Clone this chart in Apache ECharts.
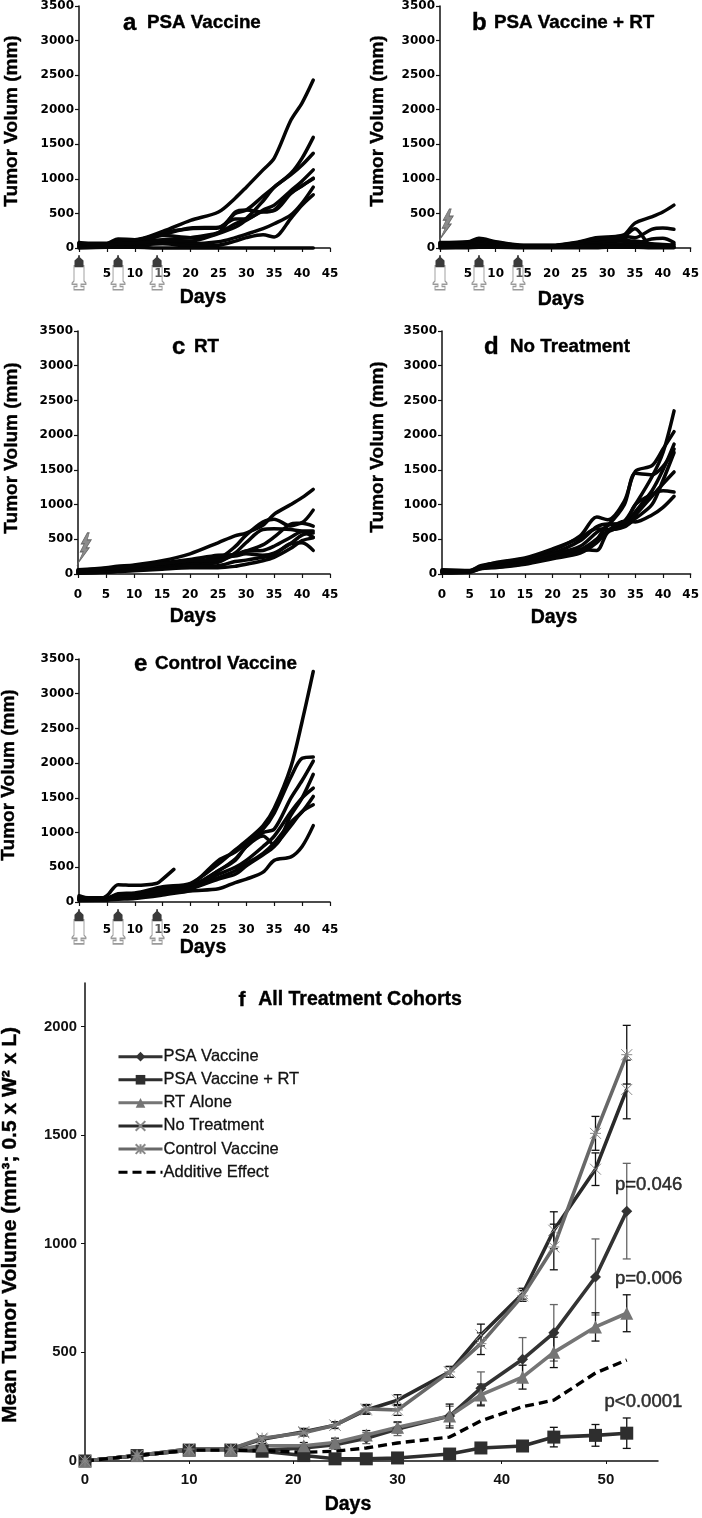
<!DOCTYPE html>
<html>
<head>
<meta charset="utf-8">
<style>
  html, body { margin: 0; padding: 0; background: #fff; }
  #chart { width: 702px; height: 1518px; }
</style>
</head>
<body>
<div id="chart"></div>
<script src="https://cdn.jsdelivr.net/npm/echarts@6/dist/echarts.min.js"></script>
<script>
// days measured in the individual mouse panels
const panelDays = [0, 5, 7, 10, 15, 20, 25, 28, 30, 33, 35, 38, 40, 42]

const linesA = [
  [70, 70, 130, 120, 240, 400, 520, 720, 880, 1130, 1300, 1850, 2100, 2430],
  [60, 60, 110, 110, 220, 280, 290, 500, 550, 750, 880, 1080, 1300, 1600],
  [50, 50, 90, 100, 120, 150, 220, 350, 430, 680, 880, 1060, 1200, 1370],
  [40, 40, 70, 80, 190, 290, 300, 420, 420, 550, 620, 830, 970, 1130],
  [30, 50, 90, 110, 180, 150, 220, 520, 550, 520, 550, 800, 900, 1010],
  [20, 30, 50, 60, 80, 60, 90, 150, 200, 280, 350, 480, 650, 880],
  [10, 20, 30, 40, 60, 30, 40, 100, 150, 190, 160, 430, 620, 770],
  [0, 10, 10, 10, 0, 0, 0, 0, 0, 0, 0, 0, 0, 0],
  [80, 40, 60, 70, 100, 100, 210, 300, 400, 530, 540, 790, 900, 1000]
]
const linesB = [
  [80, 90, 140, 90, 40, 40, 90, 150, 160, 190, 360, 450, 520, 620],
  [70, 80, 130, 80, 35, 35, 80, 130, 150, 170, 150, 270, 290, 270],
  [60, 70, 110, 70, 30, 30, 70, 110, 130, 130, 70, 130, 140, 80],
  [50, 60, 90, 60, 25, 30, 60, 100, 130, 170, 280, 20, 10, 60],
  [40, 50, 70, 50, 20, 25, 50, 70, 90, 100, 100, 60, 50, 40],
  [30, 30, 50, 40, 15, 20, 30, 40, 50, 60, 60, 40, 30, 20],
  [15, 20, 30, 20, 10, 10, 20, 20, 30, 30, 40, 30, 20, 10],
  [0, 5, 10, 10, 5, 5, 5, 5, 10, 10, 10, 5, 5, 5]
]
const linesC = [
  [60, 90, 110, 130, 190, 290, 450, 550, 590, 700, 860, 1000, 1100, 1220],
  [50, 80, 95, 120, 160, 210, 270, 280, 330, 420, 530, 720, 740, 920],
  [40, 70, 85, 110, 130, 150, 220, 390, 560, 750, 790, 690, 730, 690],
  [30, 60, 75, 95, 110, 140, 170, 300, 450, 640, 650, 640, 620, 620],
  [20, 45, 60, 80, 100, 130, 250, 260, 290, 270, 300, 440, 560, 590],
  [15, 30, 40, 60, 80, 110, 120, 180, 200, 240, 280, 440, 450, 340],
  [10, 25, 35, 45, 70, 90, 90, 110, 140, 190, 240, 370, 480, 520],
  [45, 75, 90, 110, 150, 190, 200, 270, 330, 340, 400, 530, 610, 530]
]
const linesD = [
  [50, 40, 100, 120, 170, 260, 350, 500, 620, 760, 1000, 1400, 1750, 2350],
  [60, 50, 120, 160, 220, 340, 550, 820, 780, 1050, 1480, 1560, 1800, 2050],
  [40, 45, 110, 140, 200, 300, 480, 680, 720, 720, 900, 1200, 1500, 1870],
  [30, 40, 90, 120, 180, 280, 400, 600, 700, 1000, 1450, 1430, 1550, 1800],
  [20, 35, 85, 110, 160, 250, 350, 340, 600, 700, 850, 1120, 1300, 1470],
  [25, 30, 80, 100, 150, 240, 320, 500, 700, 730, 1000, 1150, 1200, 1180],
  [15, 25, 75, 95, 140, 220, 300, 450, 620, 760, 750, 850, 960, 1120],
  [45, 45, 105, 170, 230, 360, 520, 650, 640, 680, 800, 1000, 1350, 1750]
]
const linesE = [
  [60, 60, 120, 130, 220, 270, 550, 750, 880, 1100, 1350, 1950, 2600, 3320],
  [70, 50, 110, 120, 200, 250, 600, 720, 850, 1050, 1280, 1800, 2070, 2090],
  [50, 45, 100, 110, 190, 230, 450, 620, 800, 1000, 1050, 1500, 1750, 2030],
  [40, 40, 90, 100, 180, 220, 450, 600, 800, 950, 820, 1250, 1500, 1840],
  [30, 40, 80, 90, 170, 210, 400, 500, 600, 800, 950, 1300, 1500, 1640],
  [20, 35, 70, 80, 150, 200, 350, 450, 550, 700, 850, 1150, 1300, 1520],
  [35, 30, 60, 70, 120, 190, 330, 400, 520, 680, 800, 1100, 1300, 1400],
  [60, 30, 40, 50, 100, 160, 190, 280, 330, 430, 600, 650, 800, 1100]
]
// the one mouse in panel e that stops at day 17
const shortDaysE = [0, 3, 5, 7, 10, 14, 15, 17]
const shortLineE = [90, 30, 90, 250, 240, 270, 330, 470]

const vaccineDays = [0, 7, 14]
const rtDay = [1.2]

// panel f
const cohortDays = [0, 5, 10, 14, 17, 21, 24, 27, 30, 35, 38, 42, 45, 49, 52]
const psaVaccine = [0, 25, 50, 50, 50, 60, 75, 105, 147, 207, 335, 468, 590, 847, 1150]
const psaVaccineErr = [0, 5, 8, 8, 10, 15, 20, 25, 30, 45, 75, 100, 130, 175, 220]
const psaVaccineRt = [0, 25, 50, 50, 45, 25, 10, 10, 14, 32, 60, 69, 110, 118, 128]
const psaVaccineRtErr = [0, 5, 8, 8, 8, 8, 6, 5, 5, 10, 10, 12, 45, 50, 70]
const rtAlone = [0, 25, 50, 50, 70, 70, 85, 120, 155, 207, 304, 386, 500, 617, 680]
const rtAloneErr = [0, 5, 8, 8, 10, 15, 20, 20, 25, 55, 50, 55, 70, 65, 85]
const noTreatment = [0, 25, 55, 55, 100, 135, 165, 235, 280, 410, 580, 770, 1062, 1343, 1710]
const noTreatmentErr = [0, 5, 8, 8, 10, 15, 15, 20, 25, 25, 50, 25, 85, 75, 135]
const controlVaccine = [0, 25, 55, 55, 105, 130, 165, 240, 235, 410, 540, 760, 985, 1508, 1870]
const controlVaccineErr = [0, 5, 8, 8, 10, 15, 15, 20, 25, 25, 50, 25, 105, 78, 135]
const additiveEffect = [0, 25, 50, 50, 48, 40, 45, 60, 83, 110, 185, 250, 280, 405, 465]
const cohortXTicks = [0, 10, 20, 30, 40, 50]
const cohortYTicks = [0, 500, 1000, 1500, 2000]
const pValues = ['p=0.046', 'p=0.006', 'p<0.0001']
const pAnchors = [[54.1, 1270], [54.1, 837], [53.6, 271]]

const PANEL_YLABEL = 'Tumor Volum (mm)'
const SANS = '"Liberation Sans", Arial, sans-serif'
const TICK_FONT = '"DejaVu Sans", Verdana, sans-serif'

// syringe and lightning glyphs
const SYRINGE_BODY = 'path://M2 0H12V14L14 16V17H9V19H12V22H2V19H5V17H0V16L2 14Z'
const SYRINGE_TIP = 'path://M1 11V5L5 2V0H7V2L11 5V11Z'
const BOLT = 'path://M9 0L3 11L6 11L2 19L5 19L0 30L11 15L8 15L13 7L9 7L11 0Z'
const X_MARK = 'path://M0 0L10 10M10 0L0 10'
const STAR_MARK = 'path://M0 0L10 10M10 0L0 10M5 0V10M0 5H10'

const panels = [
  { letter: 'a', title: 'PSA Vaccine', lines: linesA, rect: [79, 5, 251, 243], lx: 123, tx: 147, ty: 23, ylx: 12, yly: 121, dx: 203, dy: 298, labelGap: 24, syringes: true },
  { letter: 'b', title: 'PSA Vaccine + RT', lines: linesB, rect: [440, 5, 253, 243], lx: 472, tx: 494, ty: 23, ylx: 378, yly: 121, dx: 561, dy: 300, labelGap: 24, syringes: true, bolt: 345 },
  { letter: 'c', title: 'RT', lines: linesC, rect: [78, 331, 252, 243], lx: 172, tx: 194, ty: 347, ylx: 12, yly: 448, dx: 193, dy: 617, labelGap: 19, bolt: 375 },
  { letter: 'd', title: 'No Treatment', lines: linesD, rect: [442, 331, 252, 243], lx: 484, tx: 510, ty: 347, ylx: 378, yly: 447, dx: 554, dy: 618, labelGap: 19 },
  { letter: 'e', title: 'Control Vaccine', lines: linesE, rect: [79, 659, 251, 243], lx: 134, tx: 155, ty: 664, ylx: 9, yly: 775, dx: 203, dy: 948, labelGap: 26, syringes: true }
]

const zip = (xs, ys) => xs.map((x, i) => [x, ys[i]])

const grid = []
const xAxis = []
const yAxis = []
const series = []
const texts = []

const addText = (text, x, y, size, rotation, align) => {
  texts.push({
    type: 'text',
    x,
    y,
    rotation: rotation || 0,
    style: {
      text,
      fontFamily: SANS,
      fontSize: size,
      fontWeight: 'bold',
      fill: '#000',
      stroke: '#000',
      lineWidth: 0.4,
      align: align || 'left',
      verticalAlign: 'middle'
    }
  })
}

panels.forEach((p, i) => {
  grid.push({ left: p.rect[0], top: p.rect[1], width: p.rect[2], height: p.rect[3] })
  xAxis.push({
    type: 'value',
    gridIndex: i,
    min: 0,
    max: 45,
    interval: 5,
    splitLine: { show: false },
    axisLine: { onZero: false, lineStyle: { color: '#111', width: 1.5 } },
    axisTick: { length: 4, lineStyle: { color: '#111', width: 1.2 } },
    axisLabel: {
      margin: p.labelGap - 4,
      color: '#000',
      fontFamily: TICK_FONT,
      fontWeight: 'bold',
      fontSize: 12,
      formatter: (v) => (p.syringes && v === 0 ? '' : String(v)),
      verticalAlign: 'top'
    }
  })
  yAxis.push({
    type: 'value',
    gridIndex: i,
    min: 0,
    max: 3500,
    interval: 500,
    splitLine: { show: false },
    axisLine: { show: true, lineStyle: { color: '#111', width: 1.5 } },
    axisTick: { show: true, length: 4, lineStyle: { color: '#111', width: 1.2 } },
    axisLabel: {
      margin: 5,
      color: '#000',
      fontFamily: TICK_FONT,
      fontWeight: 'bold',
      fontSize: 12,
      formatter: (v) => String(v)
    }
  })

  const traces = p.lines.map((vals) => zip(panelDays, vals))
  if (p.letter === 'e') traces.push(zip(shortDaysE, shortLineE))
  traces.forEach((data) => {
    series.push({
      type: 'line',
      xAxisIndex: i,
      yAxisIndex: i,
      data,
      smooth: 0.3,
      symbol: 'none',
      clip: false,
      lineStyle: { color: '#050505', width: 3.5, cap: 'round', join: 'round' },
      silent: true
    })
  })

  if (p.syringes) {
    series.push({
      type: 'scatter',
      xAxisIndex: i,
      yAxisIndex: i,
      clip: false,
      silent: true,
      symbol: SYRINGE_BODY,
      symbolSize: [14, 24],
      itemStyle: { color: 'rgba(255,255,255,0.35)', borderColor: '#9a9a9a', borderWidth: 1.2, opacity: 1 },
      data: vaccineDays.map((d) => [d, -430])
    })
    series.push({
      type: 'scatter',
      xAxisIndex: i,
      yAxisIndex: i,
      clip: false,
      silent: true,
      symbol: SYRINGE_TIP,
      symbolSize: [9, 12],
      itemStyle: { color: '#3a3a3a', opacity: 1 },
      data: vaccineDays.map((d) => [d, -190])
    })
  }
  if (p.bolt) {
    series.push({
      type: 'scatter',
      xAxisIndex: i,
      yAxisIndex: i,
      clip: false,
      silent: true,
      symbol: BOLT,
      symbolSize: [13, 30],
      itemStyle: { color: '#8c8c8c', borderColor: '#666', borderWidth: 0.8, opacity: 1 },
      data: rtDay.map((d) => [d, p.bolt])
    })
  }

  addText(p.letter, p.lx, p.ty, 24)
  addText(p.title, p.tx, p.ty, 18.8)
  addText(PANEL_YLABEL, p.ylx, p.yly, 19, Math.PI / 2, 'center')
  addText('Days', p.dx, p.dy, 19.5, 0, 'center')
})

// panel f
const F = panels.length
grid.push({ left: 85, top: 983, width: 573, height: 478 })
xAxis.push({
  type: 'value',
  gridIndex: F,
  min: 0,
  max: 55,
  interval: 10,
  splitLine: { show: false },
  axisLine: { onZero: false, lineStyle: { color: '#111', width: 1.5 } },
  axisTick: { customValues: cohortXTicks, length: 3, lineStyle: { color: '#111' } },
  axisLabel: {
    customValues: cohortXTicks,
    margin: 11,
    color: '#111',
    fontFamily: SANS,
    fontWeight: 'bold',
    fontSize: 15,
    formatter: (v) => String(v)
  }
})
yAxis.push({
  type: 'value',
  gridIndex: F,
  min: 0,
  max: 2200,
  interval: 500,
  splitLine: { show: false },
  axisLine: { show: true, lineStyle: { color: '#111', width: 1.5 } },
  axisTick: { show: true, customValues: cohortYTicks, length: 4, lineStyle: { color: '#111' } },
  axisLabel: {
    customValues: cohortYTicks,
    margin: 8,
    color: '#111',
    fontFamily: SANS,
    fontWeight: 'bold',
    fontSize: 14.8,
    formatter: (v) => String(v)
  }
})

const errorBars = (vals, errs, color) => ({
  type: 'custom',
  xAxisIndex: F,
  yAxisIndex: F,
  silent: true,
  clip: false,
  encode: { x: 0, y: [1, 2] },
  data: cohortDays.map((d, i) => [d, vals[i] - errs[i], vals[i] + errs[i]]),
  renderItem: (params, api) => {
    const low = api.coord([api.value(0), api.value(1)])
    const high = api.coord([api.value(0), api.value(2)])
    const style = { stroke: color, lineWidth: 1.3, fill: 'none' }
    const seg = (x1, y1, x2, y2) => ({ type: 'line', shape: { x1, y1, x2, y2 }, style })
    return {
      type: 'group',
      children: [
        seg(low[0], low[1], high[0], high[1]),
        seg(low[0] - 4, low[1], low[0] + 4, low[1]),
        seg(high[0] - 4, high[1], high[0] + 4, high[1])
      ]
    }
  }
})

series.push(errorBars(psaVaccine, psaVaccineErr, '#666'))
series.push(errorBars(psaVaccineRt, psaVaccineRtErr, '#111'))
series.push(errorBars(rtAlone, rtAloneErr, '#111'))
series.push(errorBars(noTreatment, noTreatmentErr, '#111'))
series.push(errorBars(controlVaccine, controlVaccineErr, '#111'))

const cohortLine = (name, vals, color, symbol, symbolSize, itemStyle) => ({
  type: 'line',
  name,
  xAxisIndex: F,
  yAxisIndex: F,
  data: zip(cohortDays, vals),
  symbol,
  symbolSize,
  showAllSymbol: true,
  clip: false,
  silent: true,
  lineStyle: { color, width: 3.6 },
  itemStyle: Object.assign({ color, opacity: 1 }, itemStyle || {})
})

series.push(cohortLine('PSA Vaccine', psaVaccine, '#333', 'diamond', 11))
series.push(cohortLine('PSA Vaccine + RT', psaVaccineRt, '#2e2e2e', 'rect', 13))
series.push(cohortLine('RT Alone', rtAlone, '#757575', 'triangle', 13))
series.push(cohortLine('No Treatment', noTreatment, '#2a2a2a', X_MARK, 11, { color: 'none', borderColor: '#888', borderWidth: 1 }))
series.push(cohortLine('Control Vaccine', controlVaccine, '#686868', STAR_MARK, 11, { color: 'none', borderColor: '#888', borderWidth: 1 }))

const additive = cohortLine('Additive Effect', additiveEffect, '#000', 'none', 0)
additive.lineStyle = { color: '#000', width: 3.4, type: [9, 5] }
series.push(additive)

series.push({
  type: 'scatter',
  xAxisIndex: F,
  yAxisIndex: F,
  clip: false,
  silent: true,
  symbolSize: 0,
  data: pAnchors.map((c, i) => ({ value: c, name: pValues[i] })),
  label: {
    show: true,
    position: 'inside',
    formatter: '{b}',
    color: '#000',
    fontFamily: SANS,
    fontSize: 18.5,
    textBorderColor: '#000',
    textBorderWidth: 0.5
  }
})

addText('Mean Tumor Volume (mm³; 0.5 x W² x L)', 10, 1225, 21, Math.PI / 2, 'center')
addText('Days', 348, 1505, 19.5, 0, 'center')
addText('f', 242, 1000, 21, 0, 'center')
addText('All Treatment Cohorts', 360, 1000, 19.5, 0, 'center')

const chart = echarts.init(document.getElementById('chart'), null, { renderer: 'canvas' })
chart.setOption({
  animation: false,
  backgroundColor: '#fff',
  grid,
  xAxis,
  yAxis,
  series,
  legend: {
    show: true,
    orient: 'vertical',
    left: 112,
    top: 1043,
    itemWidth: 44,
    itemHeight: 12,
    itemGap: 5.8,
    selectedMode: false,
    lineStyle: { width: 3 },
    data: [
      'PSA Vaccine',
      'PSA Vaccine + RT',
      'RT Alone',
      'No Treatment',
      'Control Vaccine',
      { name: 'Additive Effect', itemStyle: { opacity: 0 } }
    ],
    textStyle: {
      color: '#111',
      fontFamily: SANS,
      fontSize: 16.5,
      padding: [0, 0, 0, -4],
      textBorderColor: '#111',
      textBorderWidth: 0.3
    }
  },
  graphic: { elements: texts }
})
</script>
</body>
</html>
